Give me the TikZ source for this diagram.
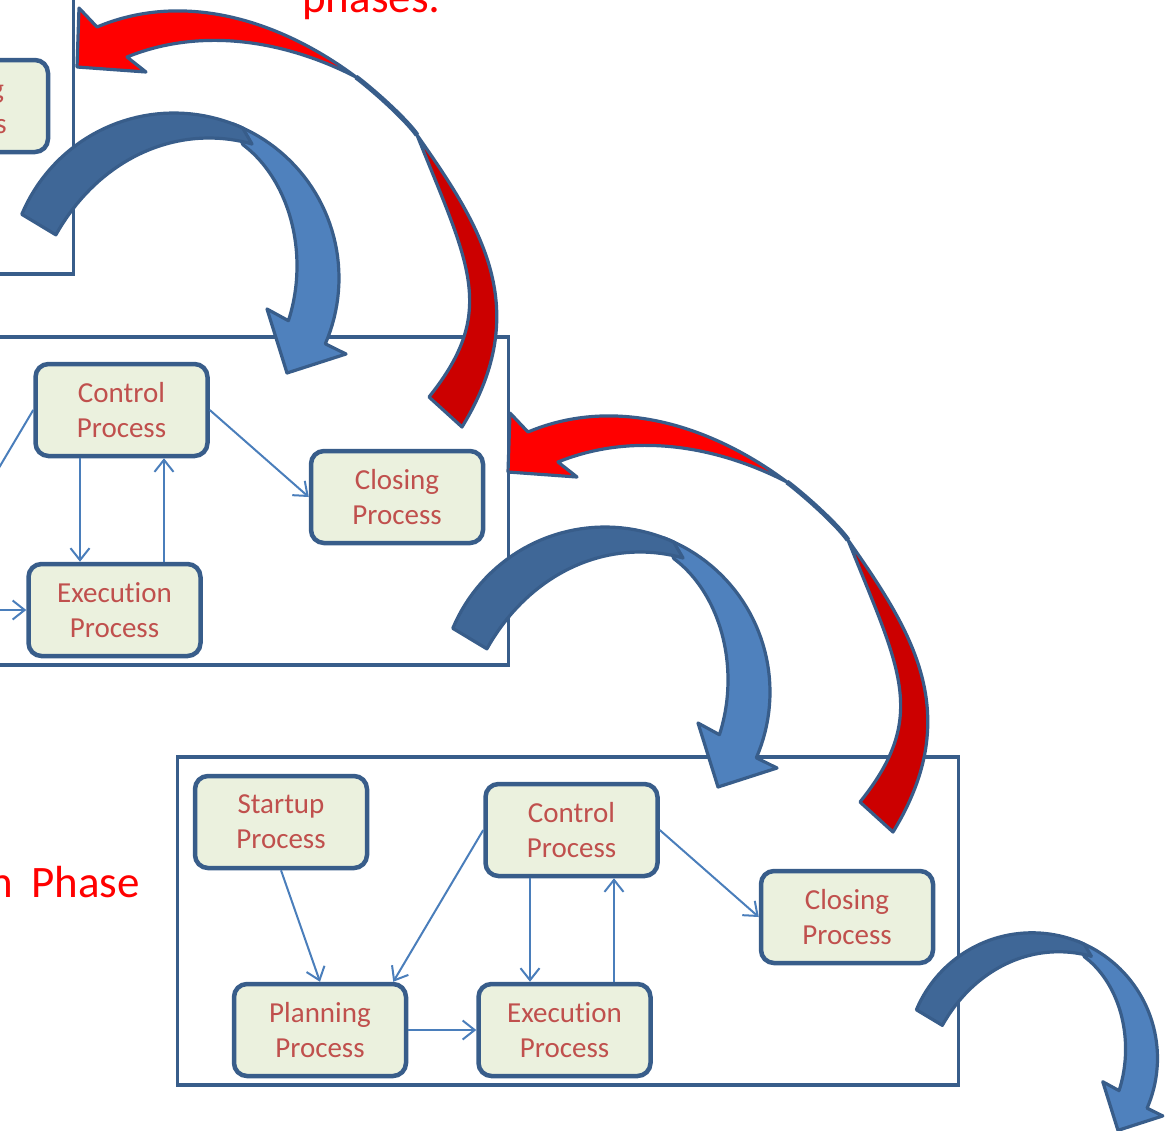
\documentclass[tikz,border=0pt]{standalone}
\usepackage{fontspec}
\setmainfont{Carlito}[Ligatures={NoCommon}]
\usetikzlibrary{arrows.meta}
\definecolor{boxline}{HTML}{385D8A}
\definecolor{boxfill}{HTML}{EBF1DE}
\definecolor{boxtext}{HTML}{C0504D}
\definecolor{connc}{HTML}{4A7EBB}
\definecolor{blueA}{HTML}{4F81BD}
\definecolor{blueB}{HTML}{3F6797}
\definecolor{redA}{HTML}{FF0000}
\definecolor{redB}{HTML}{CC0000}
\tikzset{
  procbox/.style={draw=boxline, fill=boxfill, line width=4.5pt, rounded corners=13pt,
    minimum width=172pt, minimum height=92pt, inner sep=0pt, align=center,
    text=boxtext, font=\fontsize{29}{35}\selectfont},
  frame/.style={draw=boxline, line width=3.8pt},
  conn/.style={draw=connc, line width=2pt, -{Straight Barb[length=12pt,width=19pt]}},
  shapeline/.style={draw=boxline, line width=3.2pt, line join=round},
  bigtext/.style={text=red, font=\fontsize{45}{54}\selectfont, inner sep=0pt},
}
\newcommand\bluearrowshape{%
  \filldraw[shapeline, fill=blueA]
    plot[domain=291:383.5, samples=40, variable=\t] ({605+165*cos(\t)},{692+165*sin(\t)})
    -- (777,768) -- (718,787) -- (698,723)
    -- plot[domain=383:300, samples=40, variable=\t] ({620+108*cos(\t)},{680+140*sin(\t)}) -- cycle;
  \filldraw[shapeline, fill=blueB]
    plot[domain=202.7:294.6, samples=40, variable=\t] ({605+165*cos(\t)},{692+165*sin(\t)})
    -- plot[domain=283.6:213.2, samples=40, variable=\t] ({640+183*cos(\t)},{766+214*sin(\t)}) -- cycle;
}
\newcommand\redarrowshape{%
  \filldraw[shapeline, fill=redA] (510,413) -- (528,432)
    .. controls (616,395) and (712,426) .. (787,482)
    .. controls (715,445) and (632,432) .. (558,462)
    -- (577,477) -- (508,472) -- cycle;
  \draw[shapeline, line width=5pt] (787,482) .. controls (803,494) and (836.5,523.6) .. (848,540);
  \filldraw[shapeline, fill=redB] (848,540) .. controls (911,630) and (966,713) .. (893,832)
    -- (860,802) .. controls (929,716) and (900,670) .. (848,540) -- cycle;
}
\begin{document}
\begin{tikzpicture}[x=1pt,y=-1pt]
\useasboundingbox (0,0) rectangle (1169,1130);
\clip (0,0) rectangle (1169,1130);
% phase box 1 (mostly outside the picture)
\begin{scope}[shift={(-885,-811)}]
  \draw[frame] (177.5,757) rectangle (958.5,1085);
  \node[procbox] (Cl1) at (847,917) {Closing\\Process};
\end{scope}
% phase box 2
\begin{scope}[shift={(-450,-420)}]
  \draw[frame] (177.5,757) rectangle (958.5,1085);
  \node[procbox] (Co2) at (571.5,830) {Control\\Process};
  \node[procbox] (Cl2) at (847,917) {Closing\\Process};
  \node[procbox] (Pl2) at (320,1030) {};
  \node[procbox] (Ex2) at (564.5,1030) {Execution\\Process};
  \draw[conn] (Co2.west) -- ([xshift=-15pt]Pl2.north east);
  \draw[conn] (Pl2.east) -- (Ex2.west);
  \draw[conn] ([xshift=-41.5pt]Co2.south) -- ([xshift=-34.5pt]Ex2.north);
  \draw[conn] ([xshift=49.5pt]Ex2.north) -- ([xshift=42.5pt]Co2.south);
  \draw[conn] (Co2.east) -- (Cl2.west);
\end{scope}
% phase box 3
\draw[frame] (177.5,757) rectangle (958.5,1085);
\node[procbox] (Su3) at (281,822) {Startup\\Process};
\node[procbox] (Co3) at (571.5,830) {Control\\Process};
\node[procbox] (Cl3) at (847,917) {Closing\\Process};
\node[procbox] (Pl3) at (320,1030) {Planning\\Process};
\node[procbox] (Ex3) at (564.5,1030) {Execution\\Process};
\draw[conn] (Su3.south) -- (Pl3.north);
\draw[conn] (Co3.west) -- ([xshift=-15pt]Pl3.north east);
\draw[conn] (Pl3.east) -- (Ex3.west);
\draw[conn] ([xshift=-41.5pt]Co3.south) -- ([xshift=-34.5pt]Ex3.north);
\draw[conn] ([xshift=49.5pt]Ex3.north) -- ([xshift=42.5pt]Co3.south);
\draw[conn] (Co3.east) -- (Cl3.west);
% texts
\node[bigtext, anchor=base west] (T1) at (302,12) {phases:};
\node[bigtext, anchor=base east] (T2) at (140,897) {n\hspace{8pt} Phase};
% curved arrows
\bluearrowshape
\begin{scope}[shift={(-431,-414)}] \bluearrowshape \end{scope}
\begin{scope}[shift={(912,1008)}, scale=0.76, shift={(-447,-626)}] \bluearrowshape \end{scope}
\redarrowshape
\begin{scope}[shift={(-431,-405)}] \redarrowshape \end{scope}
\end{tikzpicture}
\end{document}
